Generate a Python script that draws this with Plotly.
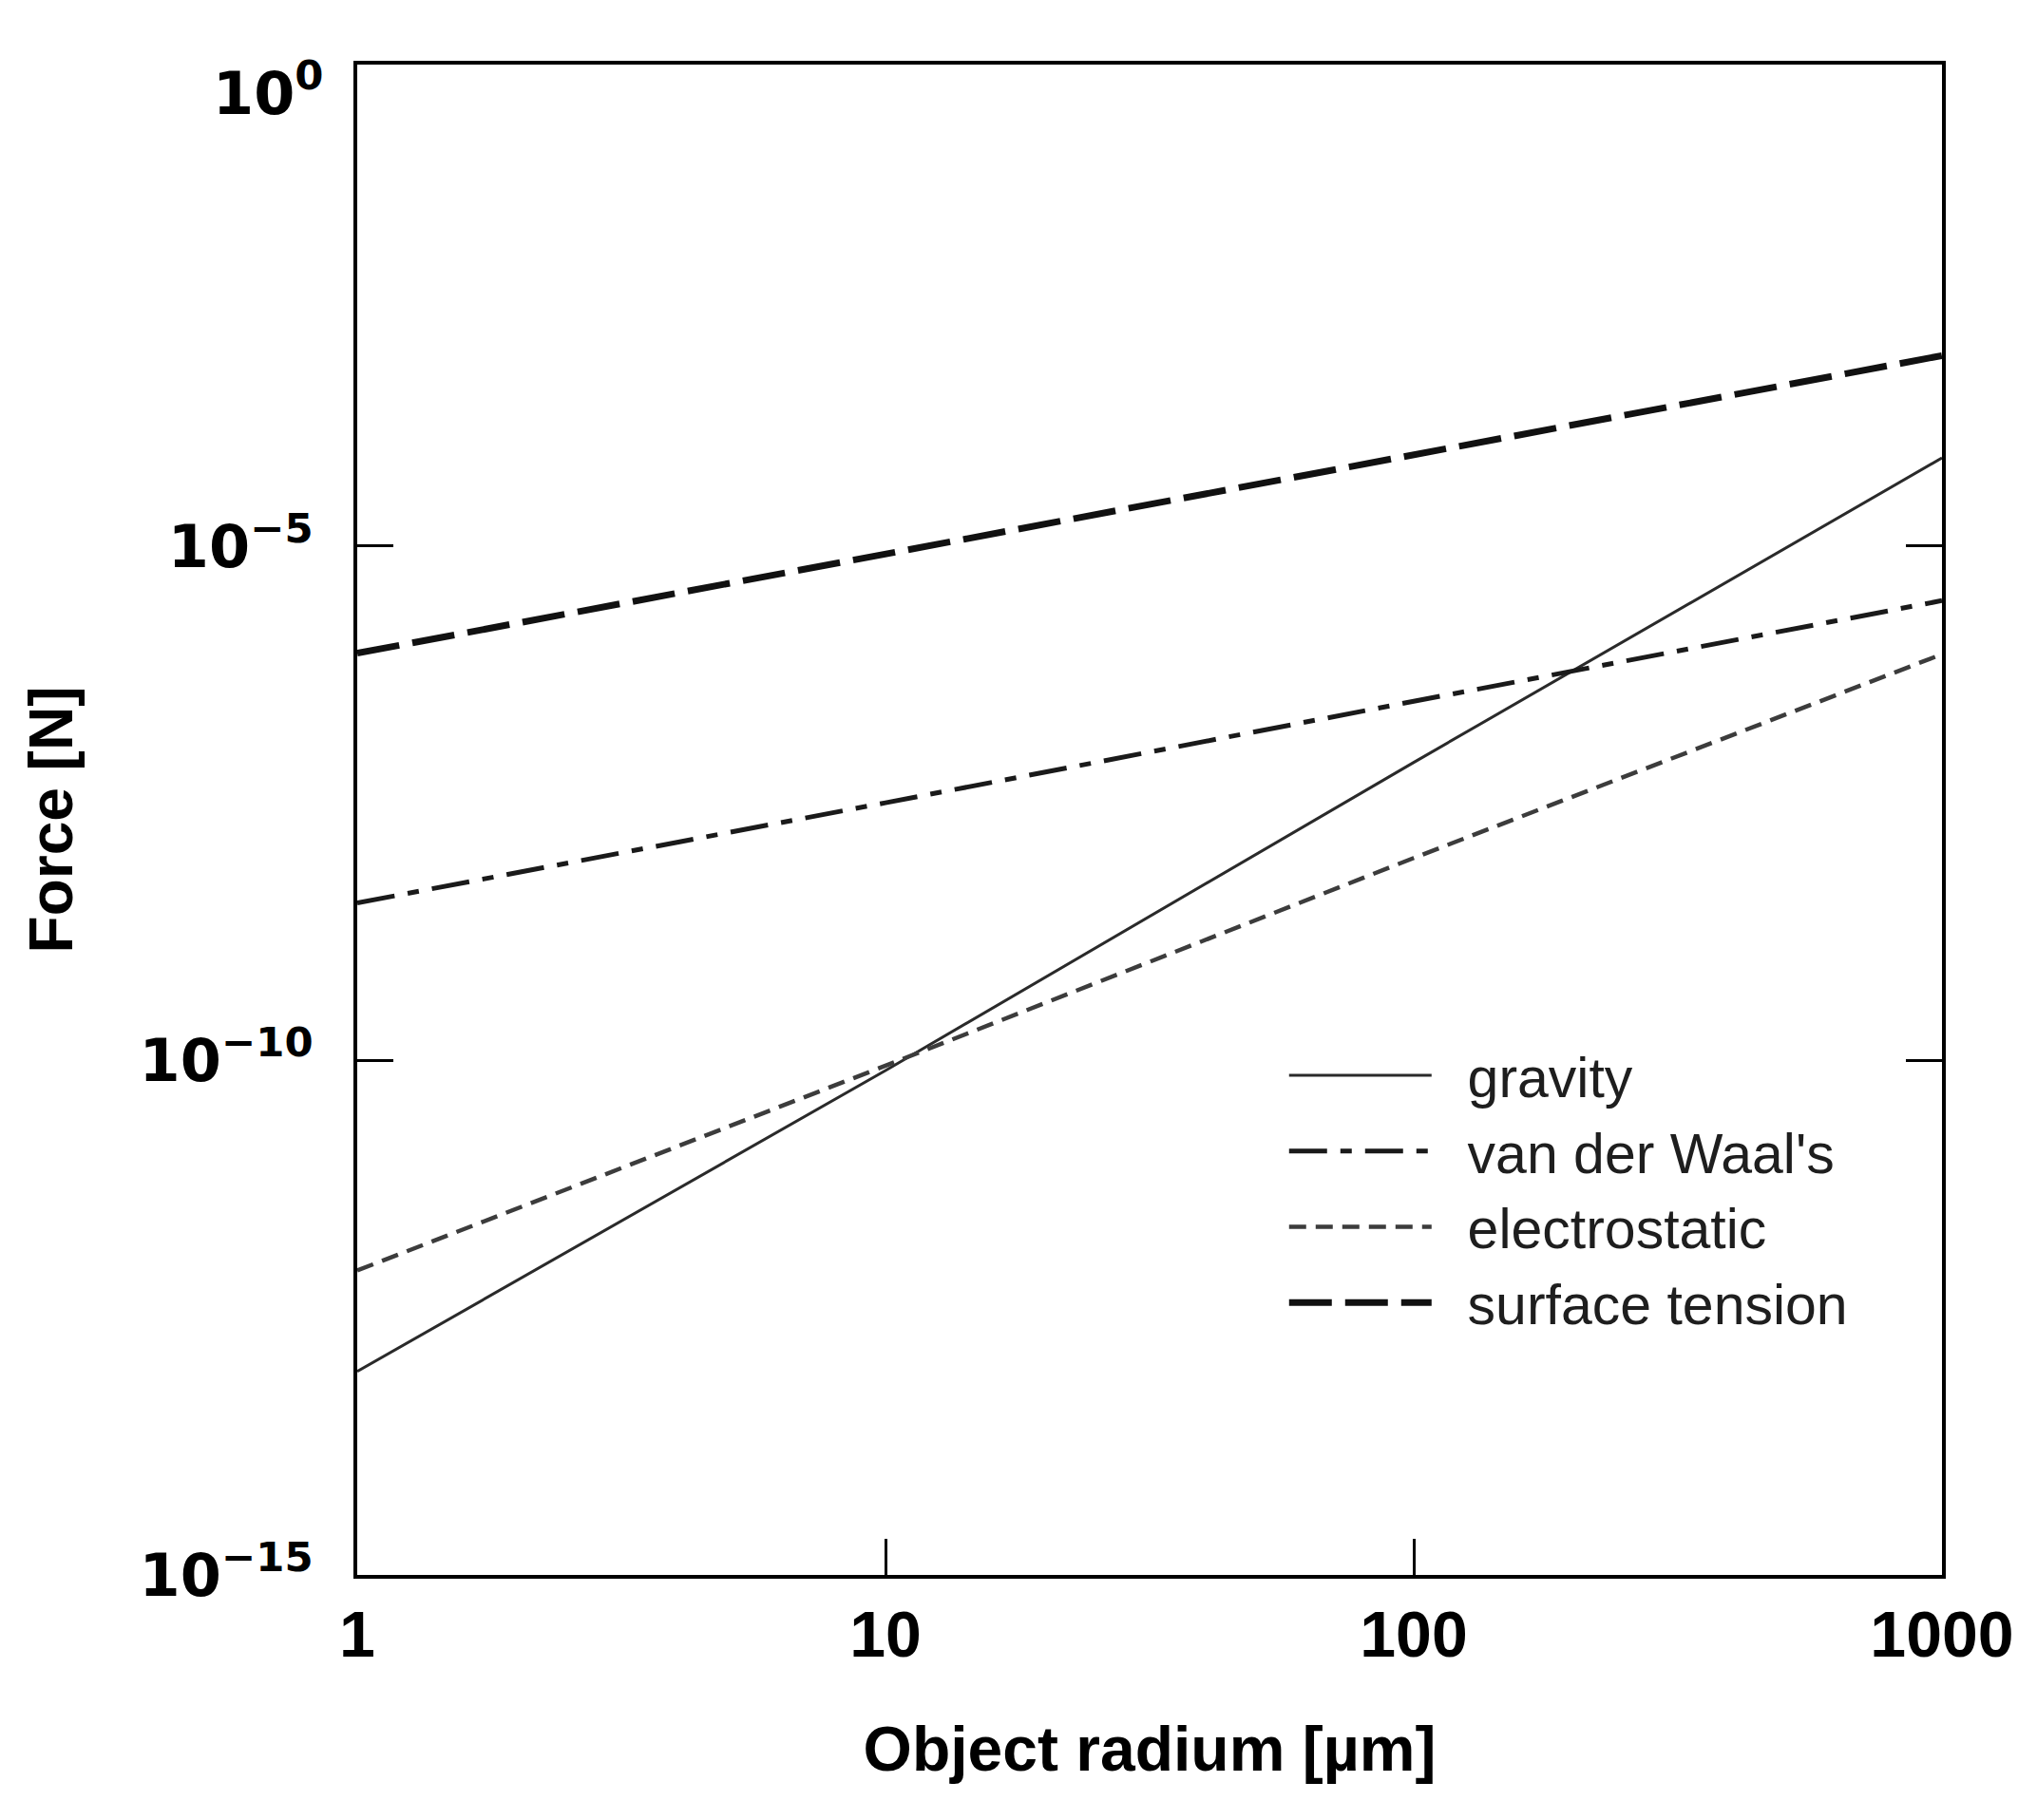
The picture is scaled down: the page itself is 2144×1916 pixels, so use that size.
import plotly.graph_objects as go

# Object radius [µm]
radius = [1, 10, 100, 1000]

# Force [N]
gravity = [9.5e-14, 8.0e-11, 7.9e-8, 7.2e-5]
van_der_waals = [3.4e-9, 3.2e-8, 3.1e-7, 2.95e-6]
electrostatic = [9.1e-13, 8.9e-11, 9.3e-9, 8.9e-7]
surface_tension = [9.1e-7, 8.3e-6, 7.6e-5, 7.1e-4]

series_names = ["gravity", "van der Waal's", "electrostatic", "surface tension"]

x_tickvals = [1, 10, 100, 1000]
x_ticktext = ["1", "10", "100", "1000"]
y_tickvals = [1e-15, 1e-10, 1e-5]
y_ticktext = ["10<sup>\u221215</sup>", "10<sup>\u221210</sup>", "10<sup>\u22125</sup>"]
y_top_label = "10<sup>0</sup>"

W, H = 2144, 1916
ML, MR, MT, MB = 368, 108, 60, 266

fig = go.Figure()

styles = [
    dict(color="#2a2a2a", width=3, dash="solid"),
    dict(color="#1a1a1a", width=5, dash="40px,14px,12px,14px"),
    dict(color="#3c3c3c", width=4.5, dash="18px,10px"),
    dict(color="#111111", width=7, dash="45px,14px"),
]
data = [gravity, van_der_waals, electrostatic, surface_tension]

for name, ys, st in zip(series_names, data, styles):
    fig.add_trace(go.Scatter(x=radius, y=ys, mode="lines",
                             name="\u00a0\u00a0" + name, line=st))

fig.update_layout(
    width=W, height=H,
    margin=dict(l=ML, r=MR, t=MT, b=MB, autoexpand=False),
    paper_bgcolor="white", plot_bgcolor="white",
    showlegend=True,
    legend=dict(
        x=0.585, y=0.359, xanchor="left", yanchor="top",
        bgcolor="rgba(0,0,0,0)", borderwidth=0,
        font=dict(family="Liberation Sans, Arial, sans-serif", size=59, color="#1e1e1e"),
        itemwidth=150, tracegroupgap=0,
    ),
    xaxis=dict(
        type="log", range=[0, 3],
        tickvals=x_tickvals, ticktext=x_ticktext,
        ticks="inside", ticklen=38, tickwidth=3, tickcolor="black",
        showline=True, linewidth=4, linecolor="black", mirror=True,
        showgrid=False, zeroline=False,
        tickfont=dict(family="Liberation Sans, Arial, sans-serif",
                      size=68, color="black", weight="bold"),
        ticklabelstandoff=0,
        title=dict(text="Object radium [\u00b5m]", standoff=62,
                   font=dict(family="Liberation Sans, Arial, sans-serif", size=66, color="black", weight="bold")),
    ),
    yaxis=dict(
        type="log", range=[-15, -0.32],
        tickvals=y_tickvals, ticktext=y_ticktext,
        ticks="inside", ticklen=38, tickwidth=3, tickcolor="black",
        showline=True, linewidth=4, linecolor="black", mirror="ticks",
        showgrid=False, zeroline=False,
        tickfont=dict(family="DejaVu Sans, sans-serif", size=62, color="black", weight="bold"),
        ticklabelstandoff=30,
        title=dict(text="Force [N]", standoff=50,
                   font=dict(family="Liberation Sans, Arial, sans-serif", size=64, color="black", weight="bold")),
    ),
)

fig.add_annotation(
    text=y_top_label, xref="paper", yref="paper", x=0, y=1,
    xanchor="right", yanchor="middle", xshift=-34, yshift=-26, showarrow=False,
    font=dict(family="DejaVu Sans, sans-serif", size=62, color="black", weight="bold"),
)

fig.write_html("out.html")
